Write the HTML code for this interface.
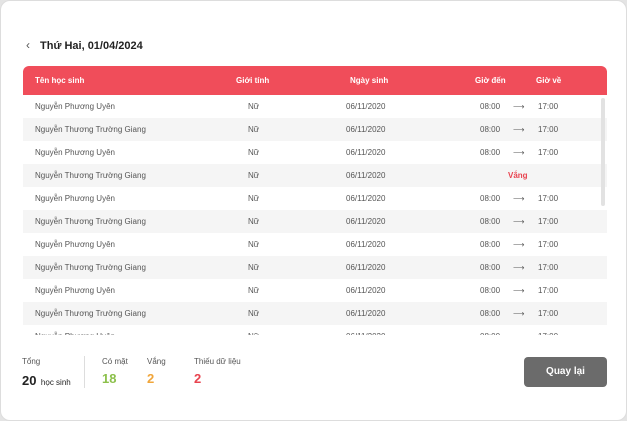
<!DOCTYPE html>
<html><head><meta charset="utf-8"><style>
*{margin:0;padding:0;box-sizing:border-box}
body{width:627px;height:421px;background:#e4e4e4;font-family:"Liberation Sans",sans-serif;position:relative;overflow:hidden}
.card{position:absolute;left:0;top:0;width:627px;height:421px;background:#fff;border-radius:10px;border:1px solid #ddd}
.abs{position:absolute;white-space:nowrap}
.title{left:39px;top:39px;font-size:11px;font-weight:bold;color:#222}
.back{left:25px;top:37px;font-size:12px;color:#555}
.head{left:22px;top:65px;width:584px;height:29px;background:#f04d5a;border-radius:6px 6px 0 0;color:#fff;font-size:8px;font-weight:bold}
.head span{position:absolute;top:10px}
.rows{left:22px;top:94px;width:584px;height:240px;overflow:hidden}
.row{height:23px;position:relative;font-size:8px;color:#555}
.row:nth-child(even){background:#f5f5f5}
.row span{position:absolute;top:7px}
.sb{left:600px;top:97px;width:4px;height:108px;background:#e2e2e2;border-radius:2px}
.lbl{font-size:8px;color:#555}
.num{font-size:13px;font-weight:bold}
.btn{left:523px;top:356px;width:83px;height:30px;background:#6b6b6b;border-radius:4px;color:#fff;font-size:10px;font-weight:bold;text-align:center;line-height:30px}
</style></head><body><div class="card">
<div class="abs back">&#8249;</div>
<div class="abs title">Thứ Hai, 01/04/2024</div>
<div class="abs head"><span style="left:12px">Tên học sinh</span><span style="left:213px">Giới tính</span><span style="left:327px">Ngày sinh</span><span style="left:452px">Giờ đến</span><span style="left:513px">Giờ về</span></div>
<div class="abs rows">
<div class="row"><span style="left:12px">Nguyễn Phương Uyên</span><span style="left:225px">Nữ</span><span style="left:323px">06/11/2020</span><span style="left:457px">08:00</span><span style="left:490px">⟶</span><span style="left:515px">17:00</span></div>
<div class="row"><span style="left:12px">Nguyễn Thương Trường Giang</span><span style="left:225px">Nữ</span><span style="left:323px">06/11/2020</span><span style="left:457px">08:00</span><span style="left:490px">⟶</span><span style="left:515px">17:00</span></div>
<div class="row"><span style="left:12px">Nguyễn Phương Uyên</span><span style="left:225px">Nữ</span><span style="left:323px">06/11/2020</span><span style="left:457px">08:00</span><span style="left:490px">⟶</span><span style="left:515px">17:00</span></div>
<div class="row"><span style="left:12px">Nguyễn Thương Trường Giang</span><span style="left:225px">Nữ</span><span style="left:323px">06/11/2020</span><span style="left:485px;color:#e8434f;font-weight:bold">Vắng</span></div>
<div class="row"><span style="left:12px">Nguyễn Phương Uyên</span><span style="left:225px">Nữ</span><span style="left:323px">06/11/2020</span><span style="left:457px">08:00</span><span style="left:490px">⟶</span><span style="left:515px">17:00</span></div>
<div class="row"><span style="left:12px">Nguyễn Thương Trường Giang</span><span style="left:225px">Nữ</span><span style="left:323px">06/11/2020</span><span style="left:457px">08:00</span><span style="left:490px">⟶</span><span style="left:515px">17:00</span></div>
<div class="row"><span style="left:12px">Nguyễn Phương Uyên</span><span style="left:225px">Nữ</span><span style="left:323px">06/11/2020</span><span style="left:457px">08:00</span><span style="left:490px">⟶</span><span style="left:515px">17:00</span></div>
<div class="row"><span style="left:12px">Nguyễn Thương Trường Giang</span><span style="left:225px">Nữ</span><span style="left:323px">06/11/2020</span><span style="left:457px">08:00</span><span style="left:490px">⟶</span><span style="left:515px">17:00</span></div>
<div class="row"><span style="left:12px">Nguyễn Phương Uyên</span><span style="left:225px">Nữ</span><span style="left:323px">06/11/2020</span><span style="left:457px">08:00</span><span style="left:490px">⟶</span><span style="left:515px">17:00</span></div>
<div class="row"><span style="left:12px">Nguyễn Thương Trường Giang</span><span style="left:225px">Nữ</span><span style="left:323px">06/11/2020</span><span style="left:457px">08:00</span><span style="left:490px">⟶</span><span style="left:515px">17:00</span></div>
<div class="row"><span style="left:12px">Nguyễn Phương Uyên</span><span style="left:225px">Nữ</span><span style="left:323px">06/11/2020</span><span style="left:457px">08:00</span><span style="left:490px">⟶</span><span style="left:515px">17:00</span></div>
</div>
<div class="abs sb"></div>
<div class="abs lbl" style="left:21px;top:356px">Tổng</div>
<div class="abs" style="left:21px;top:371px;color:#222"><b style="font-size:13px">20</b> <span style="font-size:8px">học sinh</span></div>
<div class="abs" style="left:83px;top:355px;width:1px;height:32px;background:#ddd"></div>
<div class="abs lbl" style="left:101px;top:356px">Có mặt</div>
<div class="abs num" style="left:101px;top:370px;color:#8cc04b">18</div>
<div class="abs lbl" style="left:146px;top:356px">Vắng</div>
<div class="abs num" style="left:146px;top:370px;color:#f0a53a">2</div>
<div class="abs lbl" style="left:193px;top:356px">Thiếu dữ liệu</div>
<div class="abs num" style="left:193px;top:370px;color:#e8434f">2</div>
<div class="abs btn">Quay lại</div>
</div></body></html>
